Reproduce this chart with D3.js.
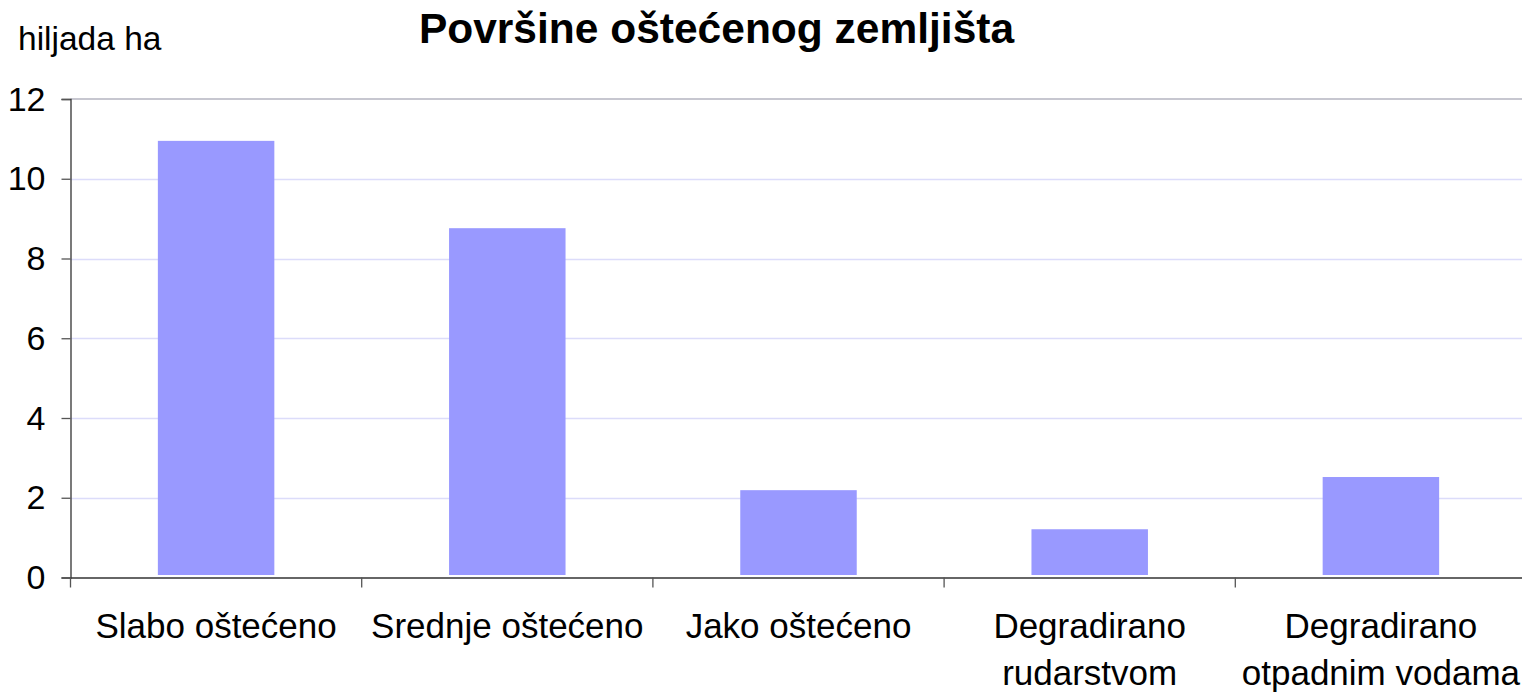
<!DOCTYPE html>
<html>
<head>
<meta charset="utf-8">
<script src="https://cdn.jsdelivr.net/npm/d3@7"></script>
<style>
  html, body { margin: 0; padding: 0; background: #fff; }
  svg { display: block; }
  text { font-family: "Liberation Sans", Arial, sans-serif; fill: #000; }
</style>
</head>
<body>
<svg id="chart" width="1522" height="694"></svg>
<script>
const categories = [
  ["Slabo oštećeno"],
  ["Srednje oštećeno"],
  ["Jako oštećeno"],
  ["Degradirano", "rudarstvom"],
  ["Degradirano", "otpadnim vodama"]
];
const values = [10.95, 8.76, 2.19, 1.21, 2.52];
const yTicks = [0, 2, 4, 6, 8, 10, 12];
const titleText = "Površine oštećenog zemljišta";
const yUnit = "hiljada ha";

const svg = d3.select("#chart");
const pLeft = 70.5, pRight = 1526.5, pTop = 99, pBottom = 577.5;

const x = d3.scaleBand()
  .domain(categories.map((d, i) => i))
  .range([pLeft, pRight])
  .paddingInner(0.6)
  .paddingOuter(0.3);
const xb = d3.scaleBand().domain(categories.map((d, i) => i)).range([pLeft, pRight]);
const y = d3.scaleLinear().domain([0, 12]).range([pBottom, pTop]);

// gridlines
svg.append("g").selectAll("line")
  .data(yTicks.filter(t => t > 0 && t < 12))
  .join("line")
  .attr("x1", pLeft).attr("x2", 1522)
  .attr("y1", d => Math.round(y(d)) + 0.5).attr("y2", d => Math.round(y(d)) + 0.5)
  .attr("stroke", "#dcdcfa").attr("stroke-width", 1.5);
// top border
svg.append("line")
  .attr("x1", pLeft).attr("x2", 1522)
  .attr("y1", y(12)).attr("y2", y(12))
  .attr("stroke", "#b4b4c0").attr("stroke-width", 1.5);

// bars
svg.append("g").selectAll("rect")
  .data(values)
  .join("rect")
  .attr("x", (d, i) => x(i))
  .attr("width", x.bandwidth())
  .attr("y", d => y(d))
  .attr("height", d => y(0) - 2.5 - y(d))
  .attr("fill", "#9999ff");

// y axis
const yAxis = d3.axisLeft(y).tickValues(yTicks).tickSize(9).tickPadding(16);
const gy = svg.append("g").attr("transform", `translate(${pLeft},0)`).call(yAxis);
gy.select(".domain").attr("stroke", "#333").attr("stroke-width", 1.3);
gy.selectAll(".tick line").attr("stroke", "#555").attr("stroke-width", 1.3);
gy.selectAll(".tick text")
  .style("font-family", "'Liberation Sans', Arial, sans-serif")
  .style("font-size", "34px").attr("fill", "#000").attr("dy", "0.33em");

// x axis
const xAxis = d3.axisBottom(xb).tickValues([]).tickSize(0);
const gx = svg.append("g").attr("transform", `translate(0,${pBottom})`).call(xAxis);
gx.select(".domain").attr("stroke", "#333").attr("stroke-width", 1.3);
gx.selectAll("line.cat").data(d3.range(categories.length + 1)).join("line")
  .attr("class", "cat")
  .attr("x1", i => pLeft + i * xb.step()).attr("x2", i => pLeft + i * xb.step())
  .attr("y1", 0).attr("y2", 10)
  .attr("stroke", "#555").attr("stroke-width", 1.3);

// category labels
const lab = svg.append("g").selectAll("text")
  .data(categories)
  .join("text")
  .attr("text-anchor", "middle")
  .style("font-size", "35px")
  .attr("x", (d, i) => xb(i) + xb.bandwidth() / 2)
  .attr("y", 638);
lab.selectAll("tspan").data(d => d).join("tspan")
  .attr("x", function() { return d3.select(this.parentNode).attr("x"); })
  .attr("dy", (d, i) => i === 0 ? 0 : 47)
  .text(d => d);

// title
svg.append("text")
  .attr("x", 716.5).attr("y", 43)
  .attr("text-anchor", "middle")
  .style("font-size", "42.5px").style("font-weight", "bold")
  .text(titleText);

// unit
svg.append("text")
  .attr("x", 18).attr("y", 50)
  .style("font-size", "33.5px")
  .text(yUnit);
</script>
</body>
</html>
